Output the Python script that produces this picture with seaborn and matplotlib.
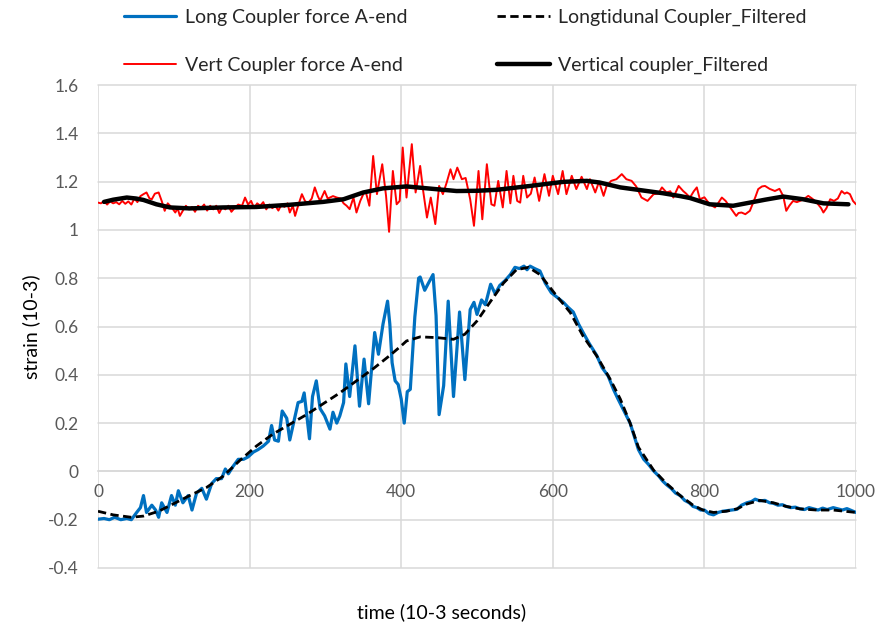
import matplotlib
matplotlib.use("Agg")
import matplotlib.pyplot as plt
import seaborn as sns
import pandas as pd

# Longitudinal coupler strain, A-end (raw)
long_t = [0, 8, 15, 22, 30, 38, 44, 51, 56, 60, 64, 71, 76, 80, 84, 91, 97, 102, 106, 112,
          119, 124, 130, 137, 143, 150, 156, 163, 168, 172, 178, 185, 192, 198, 205, 211, 218,
          225, 229, 233, 238, 243, 249, 253, 258, 264, 269, 272, 275, 279, 283, 288, 293, 299,
          306, 310, 315, 319, 324, 327, 332, 339, 345, 351, 357, 365, 370, 376, 382, 385, 388,
          392, 396, 400, 404, 408, 412, 418, 423, 425, 431, 436, 442, 446, 450, 456, 462, 469,
          477, 484, 491, 496, 500, 506, 511, 518, 524, 530, 537, 544, 550, 556, 562, 566, 570,
          576, 583, 590, 598, 606, 614, 620, 627, 634, 640, 648, 658, 665, 673, 680, 686, 694,
          702, 708, 713, 720, 726, 733, 740, 745, 750, 756, 762, 768, 774, 780, 785, 790, 795,
          800, 806, 812, 818, 824, 829, 836, 843, 849, 856, 862, 867, 873, 880, 886, 891, 897,
          903, 908, 914, 920, 926, 932, 938, 944, 950, 956, 962, 970, 976, 982, 988, 994, 1000]
long_v = [-0.198, -0.195, -0.2, -0.19, -0.2, -0.195, -0.2, -0.17, -0.15, -0.10, -0.17, -0.14,
          -0.16, -0.19, -0.13, -0.17, -0.10, -0.14, -0.08, -0.13, -0.10, -0.16, -0.09, -0.07,
          -0.115, -0.05, -0.03, -0.03, 0.01, -0.01, 0.02, 0.05, 0.05, 0.06, 0.08, 0.09, 0.105,
          0.125, 0.19, 0.13, 0.125, 0.25, 0.22, 0.13, 0.20, 0.285, 0.29, 0.325, 0.245, 0.135,
          0.31, 0.375, 0.26, 0.23, 0.175, 0.245, 0.20, 0.23, 0.285, 0.445, 0.31, 0.52, 0.27,
          0.465, 0.28, 0.575, 0.485, 0.61, 0.705, 0.61, 0.45, 0.375, 0.36, 0.30, 0.20, 0.33,
          0.34, 0.64, 0.80, 0.805, 0.75, 0.78, 0.815, 0.645, 0.235, 0.355, 0.705, 0.31, 0.66,
          0.38, 0.67, 0.70, 0.65, 0.71, 0.69, 0.775, 0.735, 0.77, 0.79, 0.815, 0.845, 0.84,
          0.85, 0.835, 0.85, 0.84, 0.83, 0.78, 0.74, 0.72, 0.70, 0.68, 0.66, 0.61, 0.575, 0.53,
          0.48, 0.43, 0.395, 0.34, 0.30, 0.25, 0.20, 0.14, 0.09, 0.05, 0.03, 0.002, -0.02,
          -0.04, -0.055, -0.07, -0.09, -0.10, -0.12, -0.13, -0.145, -0.15, -0.16, -0.16, -0.175,
          -0.18, -0.17, -0.165, -0.163, -0.16, -0.157, -0.14, -0.13, -0.125, -0.115, -0.122,
          -0.12, -0.13, -0.132, -0.14, -0.138, -0.145, -0.15, -0.148, -0.155, -0.158, -0.15,
          -0.155, -0.16, -0.152, -0.158, -0.15, -0.155, -0.16, -0.154, -0.162, -0.17]

# Longitudinal coupler strain, filtered
long_f_t = [0, 20, 44, 60, 80, 99, 121, 143, 165, 187, 209, 231, 253, 275, 297, 319, 341, 363,
            385, 400, 407, 425, 447, 469, 484, 500, 517, 535, 552, 568, 583, 605, 623, 640, 658,
            676, 689, 702, 713, 733, 750, 768, 785, 798, 812, 829, 843, 856, 873, 891, 908, 926,
            948, 970, 1000]
long_f_v = [-0.165, -0.18, -0.19, -0.185, -0.165, -0.135, -0.10, -0.067, -0.02, 0.045, 0.105,
            0.155, 0.195, 0.235, 0.28, 0.325, 0.375, 0.425, 0.48, 0.52, 0.54, 0.557, 0.554,
            0.547, 0.568, 0.623, 0.70, 0.78, 0.835, 0.845, 0.815, 0.727, 0.658, 0.56, 0.478,
            0.38, 0.30, 0.20, 0.10, 0.005, -0.05, -0.10, -0.14, -0.16, -0.17, -0.165, -0.155,
            -0.135, -0.12, -0.13, -0.145, -0.155, -0.16, -0.16, -0.17]

# Vertical coupler strain, A-end (raw)
vert_t = [0, 4, 8, 12, 16, 20, 24, 28, 32, 36, 40, 44, 48, 52, 56, 60, 64, 68, 71, 75, 80, 84,
          88, 92, 95, 99, 102, 105, 108, 112, 116, 120, 124, 128, 132, 136, 140, 144, 148, 152,
          156, 160, 164, 168, 172, 176, 180, 185, 190, 194, 198, 202, 206, 210, 214, 218, 222,
          226, 230, 234, 238, 242, 246, 250, 253, 257, 260, 264, 269, 273, 277, 282, 286, 290,
          293, 299, 303, 306, 310, 315, 320, 324, 328, 332, 337, 341, 346, 350, 353, 358, 363,
          368, 375, 380, 384, 389, 394, 398, 402, 407, 414, 419, 425, 429, 434, 439, 445, 450,
          455, 460, 465, 469, 474, 480, 485, 491, 496, 502, 507, 513, 519, 523, 528, 534, 539,
          544, 548, 553, 557, 561, 566, 571, 576, 582, 589, 595, 600, 607, 613, 618, 625, 631,
          638, 645, 649, 656, 661, 667, 671, 677, 684, 691, 697, 704, 710, 717, 721, 725, 733,
          739, 744, 750, 755, 759, 766, 772, 776, 781, 786, 790, 794, 800, 807, 814, 818, 823,
          828, 834, 842, 845, 849, 854, 860, 867, 871, 876, 880, 886, 893, 899, 904, 908, 912,
          917, 922, 926, 931, 937, 942, 946, 950, 954, 957, 961, 966, 971, 976, 981, 985, 988,
          992, 996, 1000]
vert_v = [1.113, 1.11, 1.12, 1.105, 1.118, 1.11, 1.115, 1.106, 1.12, 1.108, 1.118, 1.105, 1.13,
          1.115, 1.14, 1.148, 1.155, 1.13, 1.127, 1.15, 1.155, 1.12, 1.079, 1.11, 1.10, 1.085,
          1.072, 1.09, 1.058, 1.08, 1.10, 1.085, 1.095, 1.075, 1.10, 1.09, 1.105, 1.08, 1.10,
          1.085, 1.10, 1.07, 1.095, 1.085, 1.10, 1.075, 1.09, 1.105, 1.10, 1.134, 1.105, 1.12,
          1.09, 1.11, 1.10, 1.115, 1.085, 1.105, 1.09, 1.10, 1.08, 1.105, 1.095, 1.11, 1.072,
          1.10, 1.058, 1.10, 1.148, 1.12, 1.11, 1.13, 1.176, 1.14, 1.12, 1.161, 1.13, 1.134,
          1.14, 1.134, 1.13, 1.11, 1.10, 1.086, 1.134, 1.072, 1.12, 1.148, 1.161, 1.10, 1.306,
          1.148, 1.272, 1.141, 0.992, 1.244, 1.106, 1.12, 1.341, 1.134, 1.355, 1.155, 1.265,
          1.161, 1.051, 1.134, 1.024, 1.182, 1.148, 1.196, 1.251, 1.21, 1.258, 1.21, 1.215,
          1.127, 1.017, 1.244, 1.044, 1.272, 1.106, 1.10, 1.203, 1.093, 1.244, 1.11, 1.224,
          1.12, 1.113, 1.224, 1.134, 1.15, 1.217, 1.12, 1.231, 1.141, 1.224, 1.148, 1.244,
          1.148, 1.224, 1.169, 1.22, 1.169, 1.21, 1.155, 1.20, 1.141, 1.182, 1.203, 1.21, 1.231,
          1.21, 1.203, 1.18, 1.134, 1.127, 1.12, 1.148, 1.15, 1.176, 1.155, 1.16, 1.134, 1.182,
          1.161, 1.15, 1.134, 1.16, 1.176, 1.127, 1.135, 1.106, 1.093, 1.11, 1.134, 1.12, 1.093,
          1.058, 1.07, 1.072, 1.065, 1.079, 1.134, 1.169, 1.18, 1.182, 1.17, 1.161, 1.17, 1.14,
          1.079, 1.10, 1.12, 1.115, 1.12, 1.127, 1.141, 1.13, 1.12, 1.106, 1.09, 1.072, 1.09,
          1.127, 1.12, 1.13, 1.161, 1.15, 1.155, 1.148, 1.12, 1.106]

# Vertical coupler strain, filtered
vert_f_t = [8, 20, 38, 50, 60, 77, 95, 121, 165, 209, 253, 297, 324, 350, 376, 407, 438, 473,
            500, 526, 570, 614, 645, 662, 689, 724, 745, 768, 781, 807, 838, 860, 880, 904, 930,
            957, 990]
vert_f_v = [1.116, 1.125, 1.134, 1.13, 1.124, 1.106, 1.093, 1.089, 1.093, 1.095, 1.104, 1.116,
            1.127, 1.155, 1.172, 1.18, 1.171, 1.161, 1.162, 1.166, 1.182, 1.199, 1.203, 1.196,
            1.176, 1.161, 1.152, 1.14, 1.132, 1.106, 1.10, 1.113, 1.125, 1.138, 1.127, 1.11,
            1.106]

x_ticks = [0, 200, 400, 600, 800, 1000]
y_ticks = [-0.4, -0.2, 0, 0.2, 0.4, 0.6, 0.8, 1.0, 1.2, 1.4, 1.6]
y_tick_labels = ["-0.4", "-0.2", "0", "0.2", "0.4", "0.6", "0.8", "1", "1.2", "1.4", "1.6"]

sns.set_theme(style="white")
plt.rcParams["font.family"] = ["Lato", "DejaVu Sans"]

fig = plt.figure(figsize=(8.83, 6.30), dpi=100)
ax = fig.add_axes([98 / 883, 1 - 568 / 630, (856 - 98) / 883, (568 - 85) / 630])

grid_c = "#d9d9d9"
text_c = "#595959"

long_df = pd.DataFrame({"t": long_t, "v": long_v})
long_f_df = pd.DataFrame({"t": long_f_t, "v": long_f_v})
vert_df = pd.DataFrame({"t": vert_t, "v": vert_v})
vert_f_df = pd.DataFrame({"t": vert_f_t, "v": vert_f_v})

sns.lineplot(data=long_df, x="t", y="v", ax=ax, color="#0070C0", linewidth=2.3,
             label="Long Coupler force A-end", zorder=3)
sns.lineplot(data=vert_df, x="t", y="v", ax=ax, color="#FF0000", linewidth=1.4,
             label="Vert Coupler force A-end", zorder=3)
sns.lineplot(data=long_f_df, x="t", y="v", ax=ax, color="black", linewidth=2.0,
             label="Longtidunal Coupler_Filtered", zorder=4)
sns.lineplot(data=vert_f_df, x="t", y="v", ax=ax, color="black", linewidth=3.2,
             label="Vertical coupler_Filtered", zorder=4)
ax.lines[2].set_dashes((3, 1.6))

ax.set_xlim(0, 1000)
ax.set_ylim(-0.4, 1.6)
ax.set_xticks(x_ticks)
ax.set_yticks(y_ticks)
ax.set_yticklabels(y_tick_labels)
ax.grid(True, color=grid_c, linewidth=1.1)
for gl in ax.get_xgridlines() + ax.get_ygridlines():
    gl.set_clip_on(False)
for side in ["top", "right", "left"]:
    ax.spines[side].set_visible(False)
ax.spines["bottom"].set_position(("data", 0))
ax.spines["bottom"].set_color(grid_c)
ax.spines["bottom"].set_linewidth(1.1)
ax.tick_params(axis="both", length=0, labelsize=12.5, labelcolor=text_c)
ax.tick_params(axis="x", pad=9)
ax.tick_params(axis="y", pad=14)
ax.set_xlabel("time (10-3 seconds)", fontsize=14, color="black")
ax.set_ylabel("strain (10-3)", fontsize=14, color="black")
ax.xaxis.set_label_coords(0.453, -0.072)
ax.yaxis.set_label_coords(-0.076, 0.5)

ax.get_legend().remove()
handles, labels = ax.get_legend_handles_labels()
fig.legend(handles, labels, ncol=2, loc="center", bbox_to_anchor=(0.527, 0.934),
           frameon=False, fontsize=14, handlelength=2.7, labelspacing=1.6,
           columnspacing=4.6, handletextpad=0.45)

fig.savefig("out.png", dpi=100)
